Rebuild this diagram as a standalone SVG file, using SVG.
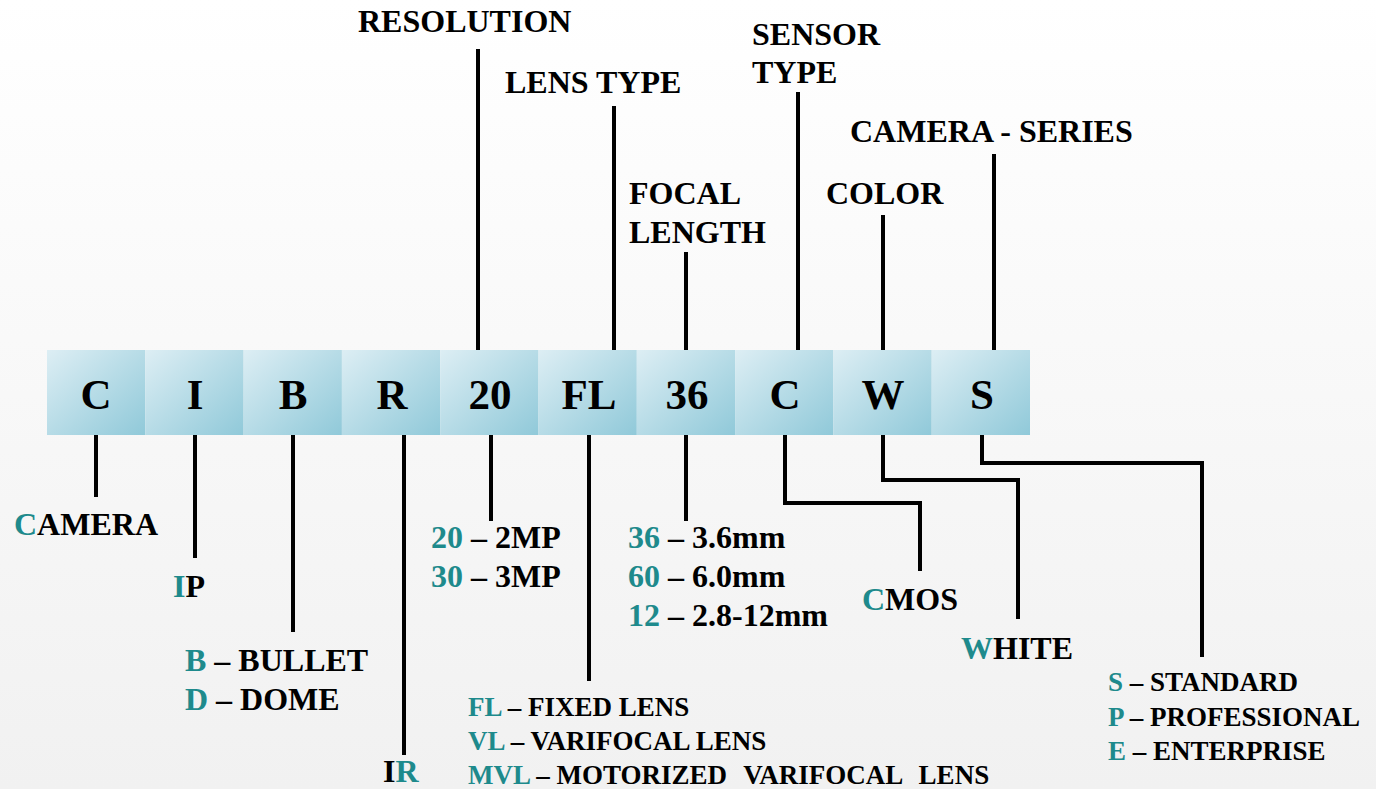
<svg xmlns="http://www.w3.org/2000/svg" width="1376" height="789" viewBox="0 0 1376 789">
<defs>
<linearGradient id="bg" x1="0" y1="0" x2="0" y2="1">
<stop offset="0" stop-color="#ffffff"/>
<stop offset="1" stop-color="#f1f1f1"/>
</linearGradient>
<linearGradient id="box" x1="0" y1="0" x2="1" y2="1">
<stop offset="0" stop-color="#ddeef4"/>
<stop offset="1" stop-color="#90c9d9"/>
</linearGradient>
<style>
.t{font-family:"Liberation Serif","Times New Roman",serif;font-weight:bold;fill:#000}
.h{font-size:32px}
.k{font-size:43px;text-anchor:middle}
.s{font-size:27px}
.c{fill:#1e8a8c}
.ln{fill:none;stroke:#000;stroke-width:4;stroke-linejoin:miter}
.bx{fill:url(#box)}
</style>
</defs>
<rect width="1376" height="789" fill="url(#bg)"/>

<g id="connectors">
<path class="ln" d="M478 49V350"/>
<path class="ln" d="M614 106V350"/>
<path class="ln" d="M686 252V350"/>
<path class="ln" d="M798 92V350"/>
<path class="ln" d="M883 215V350"/>
<path class="ln" d="M994 154V350"/>
<path class="ln" d="M96 435V497"/>
<path class="ln" d="M195 435V558"/>
<path class="ln" d="M293 435V632"/>
<path class="ln" d="M404 435V755"/>
<path class="ln" d="M491 435V521"/>
<path class="ln" d="M589 435V681"/>
<path class="ln" d="M686 435V521"/>
<path class="ln" d="M785 435V503H920V571"/>
<path class="ln" d="M883 435V480H1018V619"/>
<path class="ln" d="M982 435V463H1202V657"/>
</g>

<g id="code">
<g id="box-c"><rect class="bx" x="47" y="350" width="98.3" height="85"/><text class="t k" x="96" y="409">C</text></g>
<g id="box-i"><rect class="bx" x="145.3" y="350" width="98.3" height="85"/><text class="t k" x="195" y="409">I</text></g>
<g id="box-b"><rect class="bx" x="243.6" y="350" width="98.3" height="85"/><text class="t k" x="293" y="409">B</text></g>
<g id="box-r"><rect class="bx" x="341.9" y="350" width="98.3" height="85"/><text class="t k" x="392" y="409">R</text></g>
<g id="box-20"><rect class="bx" x="440.2" y="350" width="98.3" height="85"/><text class="t k" x="490" y="409">20</text></g>
<g id="box-fl"><rect class="bx" x="538.5" y="350" width="98.3" height="85"/><text class="t k" x="589" y="409">FL</text></g>
<g id="box-36"><rect class="bx" x="636.8" y="350" width="98.3" height="85"/><text class="t k" x="687" y="409">36</text></g>
<g id="box-c2"><rect class="bx" x="735.1" y="350" width="98.3" height="85"/><text class="t k" x="785" y="409">C</text></g>
<g id="box-w"><rect class="bx" x="833.4" y="350" width="98.3" height="85"/><text class="t k" x="883" y="409">W</text></g>
<g id="box-s"><rect class="bx" x="931.7" y="350" width="98.3" height="85"/><text class="t k" x="982" y="409">S</text></g>
</g>

<g id="label-resolution"><text class="t h" x="358" y="32">RESOLUTION</text></g>
<g id="label-lens-type"><text class="t h" x="505" y="93">LENS TYPE</text></g>
<g id="label-focal-length"><text class="t h" x="629" y="204">FOCAL</text><text class="t h" x="629" y="243">LENGTH</text></g>
<g id="label-sensor-type"><text class="t h" x="752" y="45">SENSOR</text><text class="t h" x="752" y="83">TYPE</text></g>
<g id="label-color"><text class="t h" x="826" y="204">COLOR</text></g>
<g id="label-camera-series"><text class="t h" x="850" y="142">CAMERA - SERIES</text></g>

<g id="val-camera"><text class="t h" x="14" y="535"><tspan class="c">C</tspan>AMERA</text></g>
<g id="val-ip"><text class="t h" x="173" y="597"><tspan class="c">I</tspan>P</text></g>
<g id="val-type"><text class="t h" x="185" y="671"><tspan class="c">B</tspan> – BULLET</text><text class="t h" x="185" y="710"><tspan class="c">D</tspan> – DOME</text></g>
<g id="val-ir"><text class="t h" x="383" y="782">I<tspan class="c">R</tspan></text></g>
<g id="val-resolution"><text class="t h" x="431" y="548"><tspan class="c">20</tspan> – 2MP</text><text class="t h" x="431" y="587"><tspan class="c">30</tspan> – 3MP</text></g>
<g id="val-lens"><text class="t s" x="468" y="716"><tspan class="c">FL</tspan> – FIXED LENS</text><text class="t s" x="468" y="750"><tspan class="c">VL</tspan> – VARIFOCAL LENS</text><text class="t s" x="468" y="784"><tspan class="c">MVL</tspan> – MOTORIZED <tspan dx="10">VARIFOCAL</tspan> <tspan dx="10">LENS</tspan></text></g>
<g id="val-focal"><text class="t h" x="628" y="548"><tspan class="c">36</tspan> – 3.6mm</text><text class="t h" x="628" y="587"><tspan class="c">60</tspan> – 6.0mm</text><text class="t h" x="628" y="626"><tspan class="c">12</tspan> – 2.8-12mm</text></g>
<g id="val-cmos"><text class="t h" x="862" y="610"><tspan class="c">C</tspan>MOS</text></g>
<g id="val-white"><text class="t h" x="961" y="659"><tspan class="c">W</tspan>HITE</text></g>
<g id="val-series"><text class="t s" x="1108" y="691"><tspan class="c">S</tspan> – STANDARD</text><text class="t s" x="1108" y="726"><tspan class="c">P</tspan> – PROFESSIONAL</text><text class="t s" x="1108" y="760"><tspan class="c">E</tspan> – ENTERPRISE</text></g>
</svg>
